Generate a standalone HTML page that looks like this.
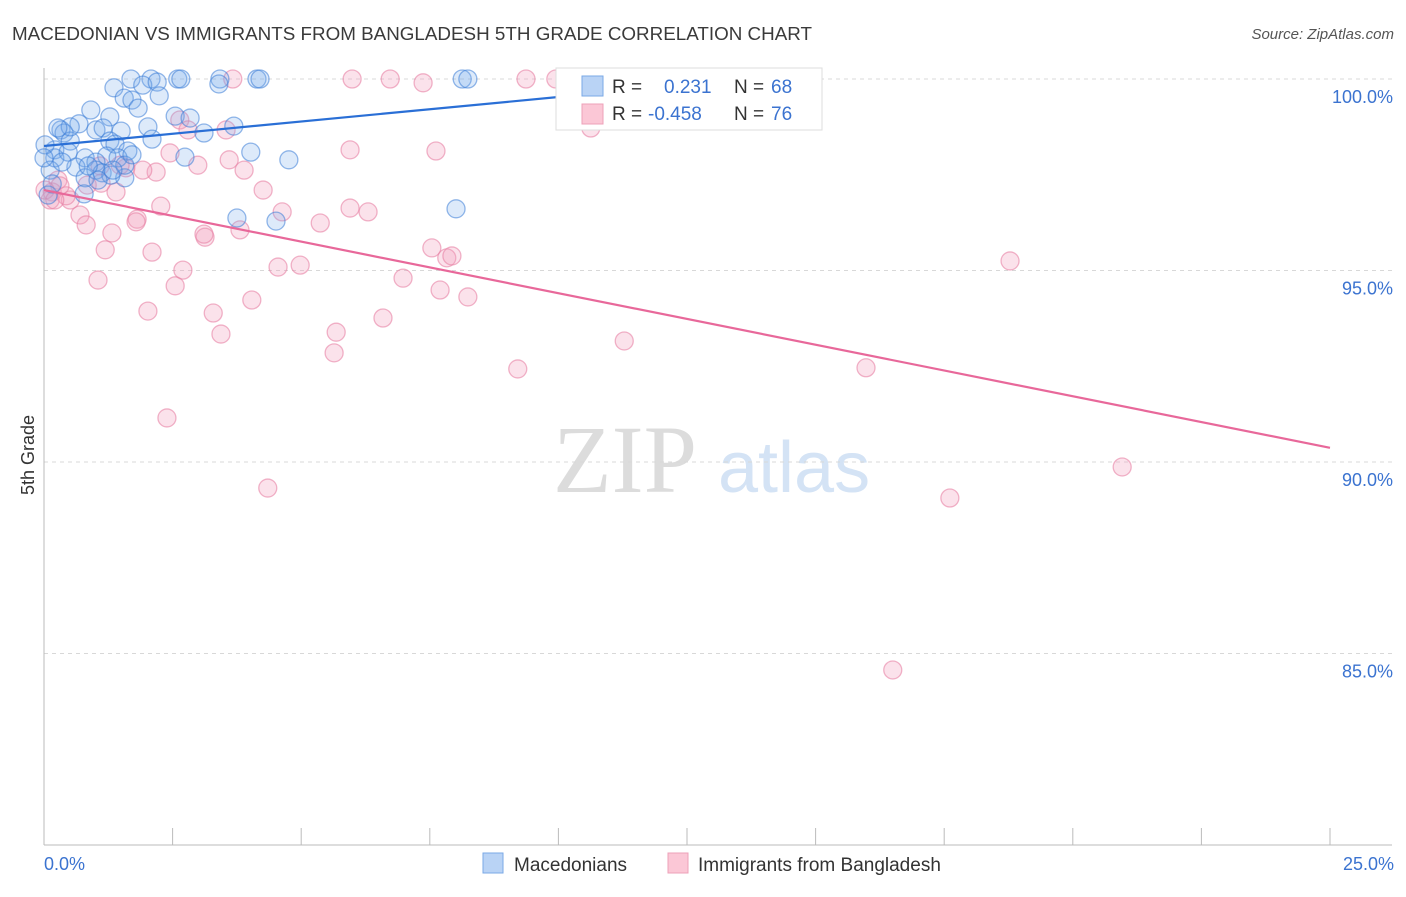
<!DOCTYPE html>
<html><head><meta charset="utf-8"><style>
body{margin:0;background:#fff;font-family:"Liberation Sans",sans-serif;}
svg text{font-family:"Liberation Sans",sans-serif;}
</style></head><body>
<svg id="c" width="1406" height="892" xmlns="http://www.w3.org/2000/svg">
<text x="12" y="40" font-size="18" textLength="800" lengthAdjust="spacingAndGlyphs" fill="#3a3a3a">MACEDONIAN VS IMMIGRANTS FROM BANGLADESH 5TH GRADE CORRELATION CHART</text>
<text x="1394" y="39" font-size="15" fill="#555" text-anchor="end" font-style="italic">Source: ZipAtlas.com</text>
<g>
<text x="553" y="492" font-size="96" fill="#dcdcdc" font-family="Liberation Serif" style="font-family:'Liberation Serif',serif">ZIP</text>
<text x="718" y="492" font-size="72" fill="#d4e3f5">atlas</text>
</g>
<g id="grid"></g>
<g id="axes"></g>
<g id="pts"></g>
<g id="trend"></g>
<g>
<rect x="556" y="68" width="266" height="62" fill="#fff" stroke="#ddd"/>
<rect x="582" y="76" width="21" height="20" fill="#b9d3f5" stroke="#7aa8e6"/>
<rect x="582" y="104" width="21" height="20" fill="#fbc7d6" stroke="#eea0b8"/>
<text x="612" y="93" font-size="19" fill="#333">R =</text>
<text x="664" y="93" font-size="19" fill="#3b73d0">0.231</text>
<text x="734" y="93" font-size="19" fill="#333">N =</text>
<text x="771" y="93" font-size="19" fill="#3b73d0">68</text>
<text x="612" y="120" font-size="19" fill="#333">R =</text>
<text x="648" y="120" font-size="19" fill="#3b73d0">-0.458</text>
<text x="734" y="120" font-size="19" fill="#333">N =</text>
<text x="771" y="120" font-size="19" fill="#3b73d0">76</text>
</g>
<g>
<rect x="483" y="853" width="20" height="20" fill="#b9d3f5" stroke="#7aa8e6"/>
<text x="514" y="871" font-size="19" fill="#333">Macedonians</text>
<rect x="668" y="853" width="20" height="20" fill="#fbc7d6" stroke="#eea0b8"/>
<text x="698" y="871" font-size="19" fill="#333">Immigrants from Bangladesh</text>
</g>
<text transform="translate(34,455) rotate(-90)" font-size="18" fill="#333" text-anchor="middle">5th Grade</text>
</svg>
<script>
const yTicks=[100,95,90,85];
const yTickLabels=["100.0%","95.0%","90.0%","85.0%"];
const xTickLabels=["0.0%","25.0%"];
const blueX=[1.69,2.08,2.60,2.66,3.42,4.14,4.20,8.13,8.24,1.92,2.20,1.36,1.56,1.71,2.24,1.83,0.91,1.28,2.55,2.84,3.40,0.33,0.39,0.68,1.01,1.15,1.50,2.02,3.69,3.11,0.51,2.10,1.28,1.38,0.21,0.21,0.47,0.80,1.63,1.22,1.01,1.44,4.02,4.76,2.74,0.62,1.01,1.13,1.57,0.80,1.30,0.78,0.12,0.08,3.75,4.51,8.01,0.51,0.27,0.02,1.57,1.05,0.35,0.16,0.86,1.71,0.0,1.34];
const blueY=[100,100,100,100,100,100,100,100,100,99.84,99.92,99.77,99.50,99.45,99.56,99.24,99.19,99.01,99.03,98.98,99.87,98.67,98.59,98.83,98.67,98.72,98.64,98.75,98.77,98.59,98.38,98.43,98.38,98.30,98.15,97.94,98.09,97.94,98.12,97.99,97.83,97.94,98.09,97.89,97.96,97.70,97.62,97.55,97.42,97.42,97.49,97.00,97.62,96.97,96.37,96.29,96.61,98.75,98.72,98.28,97.75,97.36,97.83,97.26,97.73,98.02,97.94,97.62];
const pinkX=[3.67,5.99,6.73,7.37,9.37,9.95,10.63,2.64,2.80,3.54,2.45,2.99,3.60,3.89,4.26,5.95,7.62,5.95,6.30,4.63,5.37,3.81,3.13,2.27,2.18,1.92,1.40,1.59,1.11,0.84,0.27,0.16,0.12,0.51,0.70,0.82,1.32,1.19,1.81,2.10,2.70,2.55,1.05,2.02,3.29,3.44,4.04,4.55,4.98,6.98,7.70,8.24,7.54,7.83,7.93,5.68,5.64,6.59,9.21,11.28,15.98,18.78,20.96,17.61,16.50,4.35,2.39,0.43,1.09,0.31,0.02,0.21,1.79,1.48,3.11];
const pinkY=[100,100,100,99.90,100,100,98.72,98.93,98.67,98.67,98.07,97.75,97.89,97.62,97.10,98.15,98.12,96.63,96.53,96.53,96.24,96.06,95.87,96.68,97.57,97.62,97.05,97.68,97.28,97.23,97.36,97.05,96.84,96.84,96.45,96.19,95.98,95.54,96.34,95.48,95.01,94.60,94.75,93.94,93.89,93.34,94.23,95.09,95.14,94.80,94.49,94.31,95.59,95.33,95.38,93.39,92.85,93.76,92.43,93.16,92.46,95.25,89.87,89.06,84.57,89.32,91.15,96.95,97.73,97.21,97.10,96.84,96.27,97.75,95.95];
const blueTrendX=[0,10];
const blueTrendY=[98.25,99.53];
const pinkTrendX=[0,25];
const pinkTrendY=[97.10,90.37];

const NS="http://www.w3.org/2000/svg";
const X0=44,X1=1330,Y100=79,PXPCT=38.3;
const sx=v=>X0+(X1-X0)*v/25;
const sy=v=>Y100+(100-v)*PXPCT;
function mk(tag,attrs,parent){const e=document.createElementNS(NS,tag);for(const k in attrs)e.setAttribute(k,attrs[k]);document.getElementById(parent).appendChild(e);return e;}
yTicks.forEach((t,i)=>{
  const g=mk('line',{x1:44,x2:1392,y1:sy(t),y2:sy(t),stroke:'#d8d8d8','stroke-dasharray':'4,4'},'grid');
  
  
  const l=mk('text',{x:1393,y:sy(t)+24,'font-size':18,fill:'#3b73d0','text-anchor':'end'},'grid');
  l.textContent=yTickLabels[i];
  
  
});
const ya=mk('line',{x1:44,x2:44,y1:68,y2:845,stroke:'#bbb'},'axes');


const xa=mk('line',{x1:44,x2:1392,y1:845,y2:845,stroke:'#bbb'},'axes');


for(let i=0;i<=10;i++){
  const t=mk('line',{x1:sx(i*2.5),x2:sx(i*2.5),y1:828,y2:845,stroke:'#bbb'},'axes');
  
  
}
[[0,'start',44],[25,'end',1394]].forEach((d,i)=>{
  const t=mk('text',{x:d[2],y:870,'font-size':18,fill:'#3b73d0','text-anchor':d[1]},'axes');
  t.textContent=xTickLabels[i];
  
  
});
pinkX.forEach((v,i)=>{
  const c=mk('circle',{cx:sx(v),cy:sy(pinkY[i]),r:9,fill:'rgba(243,160,188,0.3)',stroke:'rgba(232,130,165,0.6)','stroke-width':1.3},'pts');
  
  
});
blueX.forEach((v,i)=>{
  const c=mk('circle',{cx:sx(v),cy:sy(blueY[i]),r:9,fill:'rgba(120,170,235,0.25)',stroke:'rgba(60,125,215,0.55)','stroke-width':1.3},'pts');
  
  
});
const bt=mk('line',{x1:sx(blueTrendX[0]),y1:sy(blueTrendY[0]),x2:sx(blueTrendX[1]),y2:sy(blueTrendY[1]),stroke:'#2a6fd6','stroke-width':2.2},'trend');


const pt=mk('line',{x1:sx(pinkTrendX[0]),y1:sy(pinkTrendY[0]),x2:sx(pinkTrendX[1]),y2:sy(pinkTrendY[1]),stroke:'#e8689a','stroke-width':2.2},'trend');


</script>
</body></html>
